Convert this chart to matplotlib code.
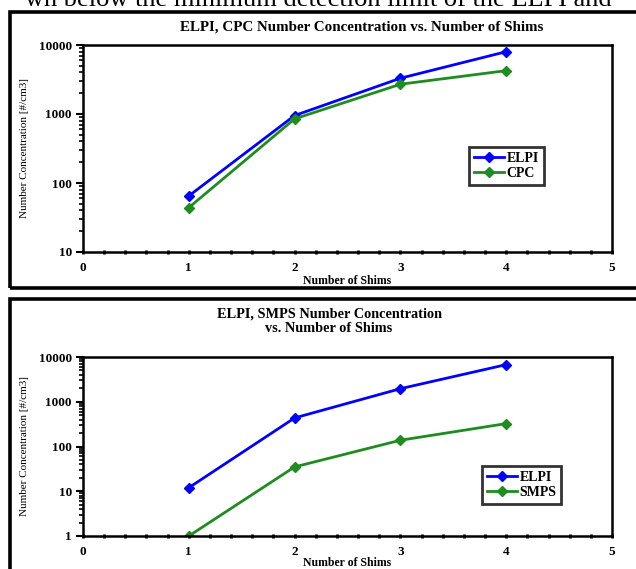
import matplotlib.pyplot as plt
from matplotlib.patches import Rectangle
from matplotlib.ticker import LogLocator, MultipleLocator, NullFormatter

# data
shims = [1, 2, 3, 4]
elpi_cpc = [65, 950, 3300, 8000]
cpc = [44, 850, 2700, 4250]
elpi_smps = [12, 435, 1960, 6750]
smps = [1, 35, 138, 325]

blue = '#0000ff'
green = '#1f8c1f'
serif = 'Liberation Serif'

W, H = 636, 569
fig = plt.figure(figsize=(W / 100, H / 100), dpi=100)


def px(x0, y0, x1, y1):
    # pixel box (top-left origin) -> figure fraction rect
    return [x0 / W, 1 - y1 / H, (x1 - x0) / W, (y1 - y0) / H]


# cut-off line of body text at the very top (clipped in the source too)
fig.text(0.5, 1 - 6 / H, 'wn below the minimum detection limit of the ELPI and',
         ha='center', va='baseline', fontsize=19, family=serif)

# panel frames
for y0, y1 in [(12, 288), (299, 600)]:
    fig.patches.append(Rectangle((10 / W, 1 - y1 / H), (650 - 10) / W, (y1 - y0) / H,
                                 transform=fig.transFigure, fill=False,
                                 edgecolor='black', linewidth=2.6))


def panel(rect, s1, s2, names, ylim, tx, ty, lines, tsize, xlab_y, leg_box):
    ax = fig.add_axes(rect)
    ax.plot(shims, s1, color=blue, marker='D', markersize=5, linewidth=2, label=names[0])
    ax.plot(shims, s2, color=green, marker='D', markersize=5, linewidth=2, label=names[1])
    ax.set_yscale('log')
    ax.set_ylim(*ylim)
    ax.set_xlim(0, 5)
    ax.xaxis.set_major_locator(MultipleLocator(1))
    ax.xaxis.set_minor_locator(MultipleLocator(0.2))
    ax.yaxis.set_minor_locator(LogLocator(base=10, subs=range(2, 10)))
    ax.yaxis.set_minor_formatter(NullFormatter())
    ticks = [10 ** k for k in range(len(str(int(ylim[0]))) - 1, len(str(int(ylim[1]))))]
    ax.set_yticks(ticks)
    ax.set_yticklabels([str(t) for t in ticks])
    for sp in ax.spines.values():
        sp.set_linewidth(1.8)
    ax.tick_params(axis='y', which='major', direction='out', length=5, width=1.5, pad=3)
    ax.tick_params(axis='y', which='minor', direction='out', length=3, width=1.2)
    ax.tick_params(axis='x', which='both', direction='inout', length=3, width=2, pad=6)
    for lab in ax.get_xticklabels() + ax.get_yticklabels():
        lab.set_family(serif)
        lab.set_fontweight('bold')
        lab.set_fontsize(9.5)
    ax.set_ylabel('Number Concentration [#/cm3]', family=serif, fontsize=8, labelpad=7)
    fig.text(347 / W, 1 - xlab_y / H, 'Number of Shims', ha='center', va='center',
             family=serif, fontweight='bold', fontsize=8.5)
    for i, line in enumerate(lines):
        fig.text(tx / W, 1 - (ty + i * 14) / H, line, ha='center', va='center',
                 family=serif, fontweight='bold', fontsize=tsize)
    leg = ax.legend(loc='lower left', bbox_to_anchor=leg_box, bbox_transform=fig.transFigure,
                    prop={'family': serif, 'weight': 'bold', 'size': 10},
                    frameon=True, fancybox=False, handlelength=2.2, handletextpad=0.15,
                    borderpad=0.35, labelspacing=0.15, borderaxespad=0)
    leg.get_frame().set_edgecolor('black')
    leg.get_frame().set_linewidth(2)
    return ax


panel(px(83, 45, 612, 252), elpi_cpc, cpc, ['ELPI', 'CPC'], (10, 10000),
      362, 27, ['ELPI, CPC Number Concentration vs. Number of Shims'], 10.8, 281,
      (469 / W, 1 - 185 / H))
panel(px(83, 357, 612, 536), elpi_smps, smps, ['ELPI', 'SMPS'], (1, 10000),
      329, 314, ['ELPI, SMPS Number Concentration', 'vs. Number of Shims'], 10.3, 563,
      (482 / W, 1 - 504 / H))

fig.savefig('out.png', dpi=100)
